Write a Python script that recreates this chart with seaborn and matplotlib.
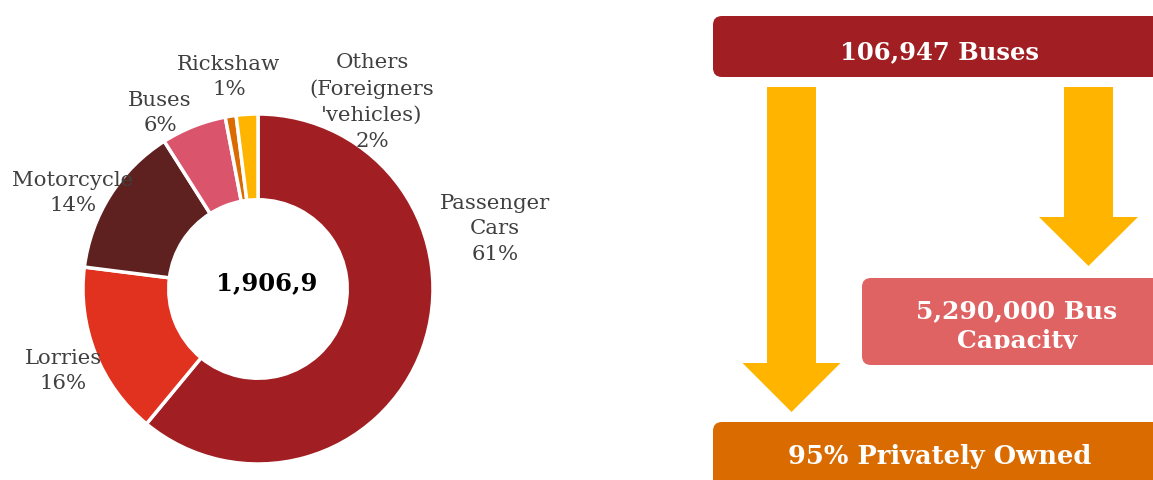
import matplotlib
matplotlib.use("Agg")
import matplotlib.pyplot as plt
from matplotlib.patches import FancyBboxPatch, Rectangle
import seaborn as sns

# Vehicle registrations by type (share of total, %)
categories = ["Passenger\nCars", "Lorries", "Motorcycle", "Buses", "Rickshaw",
              "Others\n(Foreigners\n'vehicles)"]
shares = [61, 16, 14, 6, 1, 2]
total_label = "1,906,9"

# Bus fleet facts
bus_count_label = "106,947 Buses"
bus_capacity_label = "5,290,000 Bus\nCapacity"
private_label = "95% Privately Owned"

sns.set_theme(style="white")
plt.rcParams["font.family"] = ["DejaVu Serif", "DejaVu Sans"]

colors = sns.color_palette(["#A11F22", "#E0321F", "#5F2020", "#DA546C", "#DA6B00", "#FFB500"])
label_color = "#404040"

W, H = 1153, 481
fig = plt.figure(figsize=(W / 100, H / 100), dpi=100)

# Donut chart
cx, cy, r = 258, 290, 175
ax = fig.add_axes([(cx - r) / W, (H - cy - r) / H, 2 * r / W, 2 * r / H])
ax.pie(shares, colors=colors, startangle=90, counterclock=False,
       wedgeprops=dict(width=0.49, edgecolor="white", linewidth=2.5))
ax.set_xlim(-1, 1)
ax.set_ylim(-1, 1)
ax.set_aspect("equal")
ax.axis("off")

# Overlay in pixel units for labels and the bus infographic
ov = fig.add_axes([0, 0, 1, 1], zorder=3)
ov.set_xlim(0, W)
ov.set_ylim(H, 0)
ov.axis("off")
ov.patch.set_alpha(0)

ov.text(cx + 9, 283, total_label, ha="center", va="center", fontsize=17.5,
        fontweight="bold", color="black")

label_pos = [(495, 229), (63, 371), (73, 193), (160, 113), (229, 77), (372, 102)]
for cat, val, (lx, ly) in zip(categories, shares, label_pos):
    ov.text(lx, ly, f"{cat}\n{val}%", ha="center", va="center", fontsize=15.3,
            color=label_color, linespacing=1.45)

def box(x0, y0, x1, y1, color):
    p = FancyBboxPatch((x0, y0), x1 - x0, y1 - y0,
                       boxstyle="round,pad=0,rounding_size=9",
                       facecolor=color, edgecolor="none")
    ov.add_patch(p)

box(713, 17, 1167, 78, "#A11F22")
box(862, 279, 1172, 366, "#E06363")
box(713, 423, 1167, 500, "#DA6B00")

arrow_color = "#FFB500"
ov.arrow(791.5, 88, 0, 413 - 88, width=49, head_width=98, head_length=49,
         length_includes_head=True, color=arrow_color, linewidth=0)
ov.arrow(1088.5, 88, 0, 267 - 88, width=49, head_width=99, head_length=49,
         length_includes_head=True, color=arrow_color, linewidth=0)

ov.text(940, 52, bus_count_label, ha="center", va="center", fontsize=17.5,
        fontweight="bold", color="white")
# the capacity text box cuts its second line off just below the baseline
t = ov.text(1017, 326, bus_capacity_label, ha="center", va="center", fontsize=18,
            fontweight="bold", color="white", linespacing=1.28)
clip = Rectangle((862, 279), 320, 71, transform=ov.transData, visible=False)
ov.add_patch(clip)
t.set_clip_on(True)
t.set_clip_path(clip)
ov.text(940, 457, private_label, ha="center", va="center", fontsize=18.5,
        fontweight="bold", color="white")

fig.savefig("out.png", dpi=100, facecolor="white")
